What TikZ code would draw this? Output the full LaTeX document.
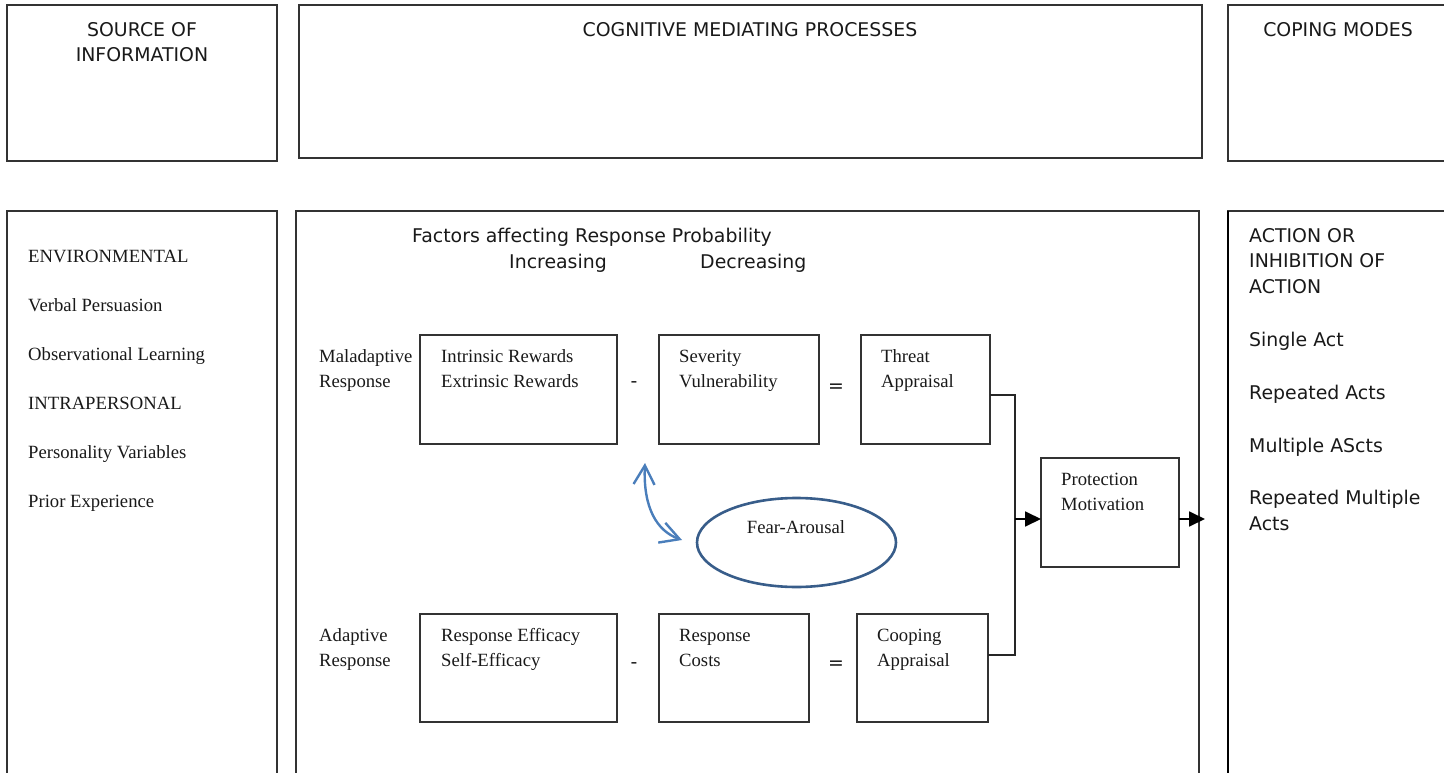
\documentclass[tikz,border=0pt]{standalone}
\usepackage{fontspec}
\setmainfont{Liberation Serif}
\newfontfamily\verd{DejaVu Sans}
\usetikzlibrary{shapes.geometric,arrows.meta}
\definecolor{frame}{HTML}{333333}
\definecolor{ovalblue}{HTML}{385D8A}
\definecolor{curveblue}{HTML}{4A7EBB}
\tikzset{
  panel/.style={draw=frame, line width=1.1pt, anchor=north west, inner sep=0pt, outer sep=0pt},
  stagebox/.style={draw=frame, line width=1.2pt, anchor=north west, inner sep=0pt, outer sep=0pt},
  serif/.style={font=\fontsize{18.67}{25}\selectfont, inner sep=0pt, anchor=base west, align=left, text=black!90},
  sans/.style={font=\verd\fontsize{18.9}{25}\selectfont, inner sep=0pt, anchor=base west, align=left, text=black!90},
  link/.style={draw=black!85, line width=1.3pt},
  flow/.style={draw=black, line width=1.8pt, -{Triangle[length=16pt,width=15pt]}},
  barb/.tip={Straight Barb[length=19pt,width=21pt]},
}
\begin{document}
\begin{tikzpicture}[x=1pt,y=-1pt]
\useasboundingbox (0,0) rectangle (1444,773);
\clip (0,0) rectangle (1444,773);

% headings row
\node[panel, minimum width=270pt, minimum height=156pt] (src) at (7,5) {};
\node[panel, minimum width=903pt, minimum height=153pt] (cog) at (299,5) {};
\node[panel, minimum width=240pt, minimum height=156pt] (cope) at (1228,5) {};
\node[sans, anchor=base] (srcA) at (142,37) {SOURCE OF};
\node[sans, anchor=base] (srcB) at (142,62) {INFORMATION};
\node[sans, anchor=base] (cogA) at (750,37) {COGNITIVE MEDIATING PROCESSES};
\node[sans, anchor=base] (copeA) at (1338,37) {COPING MODES};

% main row panels
\node[panel, minimum width=270pt, minimum height=600pt] (srcP) at (7,211) {};
\node[panel, minimum width=903pt, minimum height=600pt] (cogP) at (296,211) {};
\node[panel, minimum width=240pt, minimum height=600pt] (copeP) at (1228,211) {};
\draw[draw=black, line width=2.2pt] (copeP.north west) -- (copeP.south west);

% sources of information
\node[serif] (env) at (28,262) {ENVIRONMENTAL};
\node[serif] (verbal) at (28,311) {Verbal Persuasion};
\node[serif] (observ) at (28,360) {Observational Learning};
\node[serif] (intra) at (28,409) {INTRAPERSONAL};
\node[serif] (person) at (28,458) {Personality Variables};
\node[serif] (prior) at (28,507) {Prior Experience};

% factors heading
\node[sans] (factors) at (412,242) {Factors affecting Response Probability};
\node[sans] (incr) at (509,268) {Increasing};
\node[sans] (decr) at (700,268) {Decreasing};

% maladaptive row (two-line labels are placed by their last baseline)
\node[serif] (malad) at (319,387) {Maladaptive\\Response};
\node[stagebox, minimum width=197pt, minimum height=109pt] (rewards) at (420,335) {};
\node[serif] (rewardsT) at (441,387) {Intrinsic Rewards\\Extrinsic Rewards};
\node[sans, anchor=base] (minusA) at (634,387) {-};
\node[stagebox, minimum width=160pt, minimum height=109pt] (severity) at (659,335) {};
\node[serif] (severityT) at (679,387) {Severity\\Vulnerability};
\node[sans, anchor=base] (equalsA) at (836,392) {=};
\node[stagebox, minimum width=129pt, minimum height=109pt] (threat) at (861,335) {};
\node[serif] (threatT) at (881,387) {Threat\\Appraisal};

% adaptive row
\node[serif] (adapt) at (319,666) {Adaptive\\Response};
\node[stagebox, minimum width=197pt, minimum height=108pt] (efficacy) at (420,614) {};
\node[serif] (efficacyT) at (441,666) {Response Efficacy\\Self-Efficacy};
\node[sans, anchor=base] (minusB) at (634,668) {-};
\node[stagebox, minimum width=150pt, minimum height=108pt] (costs) at (659,614) {};
\node[serif] (costsT) at (679,666) {Response\\Costs};
\node[sans, anchor=base] (equalsB) at (836,669) {=};
\node[stagebox, minimum width=131pt, minimum height=108pt] (cooping) at (857,614) {};
\node[serif] (coopingT) at (877,666) {Cooping\\Appraisal};

% protection motivation
\node[stagebox, minimum width=138pt, minimum height=109pt] (protect) at (1041,458) {};
\node[serif] (protectT) at (1061,510) {Protection\\Motivation};

% fear arousal
\node[ellipse, draw=ovalblue, line width=2.6pt, minimum width=199pt, minimum height=89pt, inner sep=0pt] (fear) at (796.5,542.5) {};
\node[serif, anchor=base] (fearT) at (796,533) {Fear-Arousal};
\coordinate (fearUp) at (645,463);
\coordinate (fearIn) at (682,540);
\draw[curveblue, line width=2.4pt, line cap=round, {barb}-{barb}] (fearUp) .. controls (643,508) and (657,531) .. (fearIn);

% appraisal bus to protection motivation and on to coping
\coordinate (busT) at (1015,395);
\coordinate (busB) at (1015,655);
\coordinate (busM) at (1015,519);
\coordinate (outTip) at (1205,519);
\draw[link] (threat.east |- busT) -- (busT) -- (busB) -- (cooping.east |- busB);
\draw[flow] (busM) -- (protect.west |- busM);
\draw[flow] (protect.east |- busM) -- (outTip);

% coping modes
\node[sans] (actA) at (1249,242) {ACTION OR};
\node[sans] (actB) at (1249,267) {INHIBITION OF};
\node[sans] (actC) at (1249,293) {ACTION};
\node[sans] (single) at (1249,346) {Single Act};
\node[sans] (repeated) at (1249,399) {Repeated Acts};
\node[sans] (multiple) at (1249,452) {Multiple AScts};
\node[sans] (repmulA) at (1249,504) {Repeated Multiple};
\node[sans] (repmulB) at (1249,530) {Acts};
\end{tikzpicture}
\end{document}
